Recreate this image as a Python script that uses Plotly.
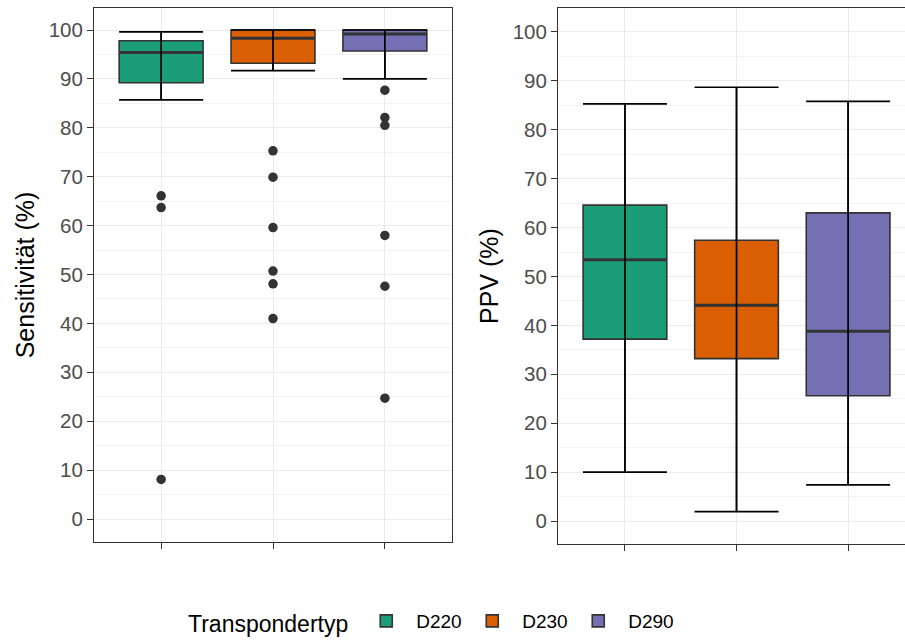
import plotly.graph_objects as go

# Transponder types and their fill colours (Dark2 palette)
groups = ["D220", "D230", "D290"]
colors = ["#1B9E77", "#D95F02", "#7570B3"]
positions = [1, 2, 3]

# Sensitivity (%) box statistics per transponder type
sens_lower = [85.7, 91.7, 90.0]
sens_q1 = [89.2, 93.2, 95.7]
sens_median = [95.4, 98.3, 99.2]
sens_q3 = [97.8, 100.0, 100.0]
sens_upper = [99.6, 100.0, 100.0]
sens_outliers = [
    [66.1, 63.7, 8.1],
    [75.3, 69.9, 59.6, 50.7, 48.1, 41.0],
    [87.7, 82.1, 80.5, 58.0, 47.6, 24.7],
]

# PPV (%) box statistics per transponder type
ppv_lower = [10.0, 1.9, 7.4]
ppv_q1 = [37.2, 33.2, 25.6]
ppv_median = [53.4, 44.1, 38.8]
ppv_q3 = [64.6, 57.4, 63.0]
ppv_upper = [85.3, 88.7, 85.8]
ppv_outliers = [[], [], []]

y_ticks = list(range(0, 101, 10))

W, H = 905, 643
FONT = "Liberation Sans, Arial, sans-serif"
BOX_W = 0.75
EDGE = "#333333"

fig = go.Figure()


def add_panel(xa, ya, lower, q1, med, q3, upper, outliers, legend):
    for i, g in enumerate(groups):
        fig.add_trace(go.Box(
            x=[positions[i]], q1=[q1[i]], median=[med[i]], q3=[q3[i]],
            lowerfence=[lower[i]], upperfence=[upper[i]],
            width=BOX_W, whiskerwidth=0, boxpoints=False,
            fillcolor=colors[i], line=dict(color=EDGE, width=1.6),
            name=g, legendgroup=g, showlegend=legend,
            xaxis=xa, yaxis=ya, hoverinfo="skip",
        ))
    for i, g in enumerate(groups):
        # thicker median bar across the box
        fig.add_trace(go.Scatter(
            x=[positions[i]], y=[med[i]], mode="markers",
            marker=dict(size=1, opacity=0),
            error_x=dict(type="data", array=[BOX_W / 2], width=0,
                         thickness=3, color=EDGE),
            showlegend=False, xaxis=xa, yaxis=ya, hoverinfo="skip",
        ))
        # whisker error bar with caps, drawn over the box
        fig.add_trace(go.Scatter(
            x=[positions[i]], y=[lower[i]], mode="markers",
            marker=dict(size=1, opacity=0),
            error_y=dict(type="data", symmetric=False,
                         array=[upper[i] - lower[i]], arrayminus=[0],
                         width=42, thickness=1.7, color="black"),
            showlegend=False, xaxis=xa, yaxis=ya, hoverinfo="skip",
        ))
        if outliers[i]:
            fig.add_trace(go.Scatter(
                x=[positions[i]] * len(outliers[i]), y=outliers[i],
                mode="markers", marker=dict(size=9.5, color=EDGE),
                showlegend=False, xaxis=xa, yaxis=ya,
            ))


add_panel("x", "y", sens_lower, sens_q1, sens_median, sens_q3, sens_upper,
          sens_outliers, True)
add_panel("x2", "y2", ppv_lower, ppv_q1, ppv_median, ppv_q3, ppv_upper,
          ppv_outliers, False)

grid = dict(showgrid=True, gridcolor="#EBEBEB", gridwidth=1.4, zeroline=False,
            ticks="outside", ticklen=6, tickcolor=EDGE, tickwidth=1,
            showline=True, linecolor=EDGE, linewidth=1)

yax = dict(grid, tickvals=y_ticks, tickfont=dict(size=20.5, color="#4D4D4D"),
           minor=dict(dtick=5, tick0=0, showgrid=True, gridcolor="#F2F2F2",
                      gridwidth=0.9, ticks=""))
xax = dict(grid, tickvals=positions, showticklabels=False)


def px_x(a, b):
    return [a / W, b / W]


def px_y(top, bottom):
    return [1 - bottom / H, 1 - top / H]


fig.update_layout(
    width=W, height=H,
    margin=dict(l=0, r=0, t=0, b=0),
    paper_bgcolor="white", plot_bgcolor="white",
    font=dict(family=FONT, color="black"),
    xaxis=dict(xax, domain=px_x(94, 452), range=[0.4, 3.6], mirror=True),
    xaxis2=dict(xax, domain=px_x(558, 905), range=[0.4, 3.51], mirror=True,
                anchor="y2"),
    yaxis=dict(yax, domain=px_y(8, 542), range=[-4.7, 104.5], mirror=True,
               title=dict(text="Sensitivität (%)", font=dict(size=25),
                          standoff=6)),
    yaxis2=dict(yax, domain=px_y(8, 544), range=[-4.7, 104.9], mirror=False,
                anchor="x2",
                title=dict(text="PPV (%)", font=dict(size=25), standoff=6)),
    legend=dict(orientation="h", x=186 / W, xanchor="left",
                y=1 - 622 / H, yanchor="middle",
                title=dict(text="Transpondertyp", side="left",
                           font=dict(size=23)),
                font=dict(size=19), traceorder="normal",
                itemwidth=50, entrywidth=41, entrywidthmode="pixels"),
)

fig.write_html("out.html")
